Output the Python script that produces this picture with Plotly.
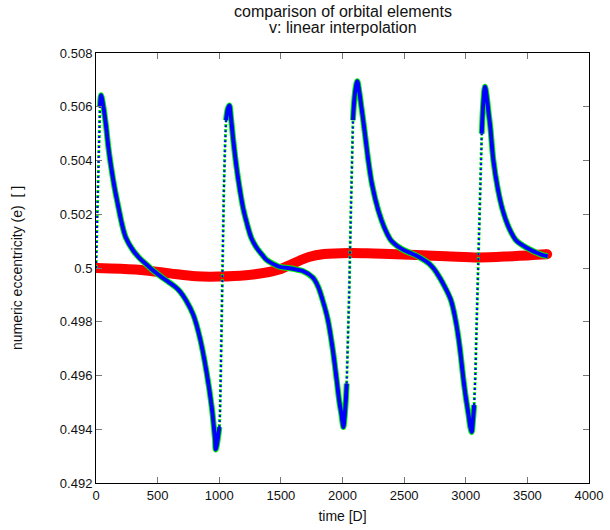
import plotly.graph_objects as go

# ---- data ----
# time [D] and numeric eccentricity of the fitted/numeric orbit (blue / green)
t_num = [0, 8, 16, 24, 32, 41, 60, 81, 100, 122, 150, 178, 210, 243, 300, 351, 410, 460,
         530, 595, 640, 682, 730, 790, 844, 898, 939, 958, 966, 971, 980, 990, 1001,
         1006, 1013, 1020, 1028, 1037, 1046, 1055, 1068, 1082, 1095, 1114, 1140, 1168,
         1195, 1222, 1262, 1300, 1352, 1385, 1460, 1493, 1569, 1620, 1677, 1758, 1800,
         1839, 1880, 1920, 1953, 1975, 1993, 2000, 2007, 2016, 2026, 2034, 2045, 2055,
         2065, 2075, 2085, 2093, 2105, 2120, 2135, 2150, 2168, 2190, 2209, 2240, 2290,
         2340, 2393, 2450, 2500, 2550, 2596, 2650, 2704, 2745, 2785, 2830, 2880, 2920,
         2950, 2980, 3000, 3021, 3036, 3048, 3058, 3068, 3078, 3090, 3102, 3116, 3130,
         3143, 3156, 3170, 3183, 3200, 3224, 3260, 3300, 3350, 3408, 3460, 3516, 3570,
         3624, 3665]
e_num = [0.50000, 0.50180, 0.50360, 0.50500, 0.50600, 0.50643, 0.50600, 0.50530, 0.50450,
         0.50378, 0.50300, 0.50235, 0.50165, 0.50112, 0.50066, 0.50038, 0.50013, 0.49992,
         0.49967, 0.49946, 0.49931, 0.49912, 0.49880, 0.49825, 0.49738, 0.49610, 0.49483,
         0.49400, 0.49359, 0.49325, 0.49340, 0.49370, 0.49408, 0.49458, 0.49620, 0.49850,
         0.50103, 0.50280, 0.50440, 0.50550, 0.50590, 0.50605, 0.50560, 0.50475, 0.50375,
         0.50289, 0.50220, 0.50170, 0.50110, 0.50078, 0.50047, 0.50030, 0.50010, 0.50004,
         0.49999, 0.49995, 0.49989, 0.49965, 0.49933, 0.49880, 0.49810, 0.49700, 0.49582,
         0.49500, 0.49450, 0.49425, 0.49408, 0.49440, 0.49500, 0.49570, 0.49720, 0.49920,
         0.50150, 0.50380, 0.50550, 0.50610, 0.50665, 0.50695, 0.50660, 0.50610, 0.50550,
         0.50470, 0.50401, 0.50310, 0.50215, 0.50150, 0.50103, 0.50080, 0.50066, 0.50056,
         0.50047, 0.50033, 0.50016, 0.49995, 0.49967, 0.49930, 0.49880, 0.49800, 0.49710,
         0.49590, 0.49520, 0.49458, 0.49410, 0.49390, 0.49430, 0.49490, 0.49600, 0.49820,
         0.50050, 0.50310, 0.50500, 0.50620, 0.50674, 0.50640, 0.50587, 0.50520, 0.50401,
         0.50295, 0.50215, 0.50150, 0.50103, 0.50085, 0.50070, 0.50058, 0.50048, 0.50044]
e_num_green = list(e_num)  # second (green) series coincides with the blue one

# time [D] and eccentricity of the reference orbit (red)
t_ref = [0, 200, 406, 600, 811, 1000, 1217, 1404, 1500, 1568, 1650, 1727, 1850, 2055,
         2250, 2434, 2650, 2840, 3108, 3383, 3660]
e_ref = [0.50000, 0.49997, 0.49991, 0.49980, 0.49969, 0.49968, 0.49973, 0.49985, 0.49996,
         0.50010, 0.50027, 0.50041, 0.50052, 0.50056, 0.50054, 0.50051, 0.50047, 0.50044,
         0.50039, 0.50044, 0.50051]

x_ticks = [0, 500, 1000, 1500, 2000, 2500, 3000, 3500, 4000]
y_ticks = [0.492, 0.494, 0.496, 0.498, 0.5, 0.502, 0.504, 0.506, 0.508]
y_tick_text = ["0.492", "0.494", "0.496", "0.498", "0.5", "0.502", "0.504", "0.506", "0.508"]

# ---- split the sampled curve into densely sampled (solid) and sparse (dotted) runs ----
def split(ts, es, thr=0.0001):
    solid, dotted = [], []
    cur_kind, cur = None, None
    for i in range(len(ts) - 1):
        slope = (es[i + 1] - es[i]) / (ts[i + 1] - ts[i])
        kind = "d" if slope > thr else "s"
        if kind != cur_kind:
            if cur:
                (dotted if cur_kind == "d" else solid).append(cur)
            cur = [(ts[i], es[i])]
            cur_kind = kind
        cur.append((ts[i + 1], es[i + 1]))
    if cur:
        (dotted if cur_kind == "d" else solid).append(cur)
    return solid, dotted

solid_runs, dotted_runs = split(t_num, e_num)

fig = go.Figure()
RED = "#ff0000"
GREEN = "#00ee00"
BLUE = "#0000ff"

fig.add_trace(go.Scatter(x=t_ref, y=e_ref, mode="lines",
                         line=dict(color=RED, width=10, shape="spline"), hoverinfo="skip"))
fig.add_trace(go.Scatter(x=[t_ref[0], t_ref[-1]], y=[e_ref[0], e_ref[-1]], mode="markers",
                         marker=dict(color=RED, size=10), hoverinfo="skip"))

for color, ws, wd, dash in [(GREEN, 6, 3, "3px,2px"), (BLUE, 4, 2, "2px,3px")]:
    for run in solid_runs:
        fig.add_trace(go.Scatter(x=[p[0] for p in run], y=[p[1] for p in run], mode="lines",
                                 line=dict(color=color, width=ws, shape="spline",
                                           smoothing=1.0),
                                 hoverinfo="skip"))
    for run in dotted_runs:
        fig.add_trace(go.Scatter(x=[p[0] for p in run], y=[p[1] for p in run], mode="lines",
                                 line=dict(color=color, width=wd, dash=dash),
                                 hoverinfo="skip"))

FONT = "Liberation Sans, Arial, sans-serif"
TXT = "#111111"
axis_common = dict(showgrid=False, zeroline=False, showline=True, linecolor="black",
                   linewidth=1, mirror="allticks", ticks="inside", ticklen=6,
                   tickcolor="#777777", tickwidth=1, automargin=False,
                   tickfont=dict(family=FONT, size=13, color=TXT))

fig.update_layout(
    width=610, height=530,
    margin=dict(l=96, r=21, t=53, b=47),
    paper_bgcolor="white", plot_bgcolor="white",
    showlegend=False,
    font=dict(family=FONT, size=13, color=TXT),
    xaxis=dict(range=[0, 4000], tickvals=x_ticks,
               title=dict(text="time [D]", standoff=9,
                          font=dict(family=FONT, size=14, color=TXT)),
               **axis_common),
    yaxis=dict(range=[0.492, 0.508], tickvals=y_ticks, ticktext=y_tick_text,
               title=dict(text="numeric eccentricity (e)\u00a0\u00a0[ ]", standoff=33,
                          font=dict(family=FONT, size=14, color=TXT)),
               **axis_common),
    annotations=[
        dict(text="comparison of orbital elements", xref="paper", yref="paper",
             x=0.5, y=1.0965, xanchor="center", yanchor="middle", showarrow=False,
             font=dict(family=FONT, size=16, color=TXT)),
        dict(text="v: linear interpolation", xref="paper", yref="paper",
             x=0.5, y=1.0595, xanchor="center", yanchor="middle", showarrow=False,
             font=dict(family=FONT, size=16, color=TXT)),
    ],
)

fig.write_html("out.html")
